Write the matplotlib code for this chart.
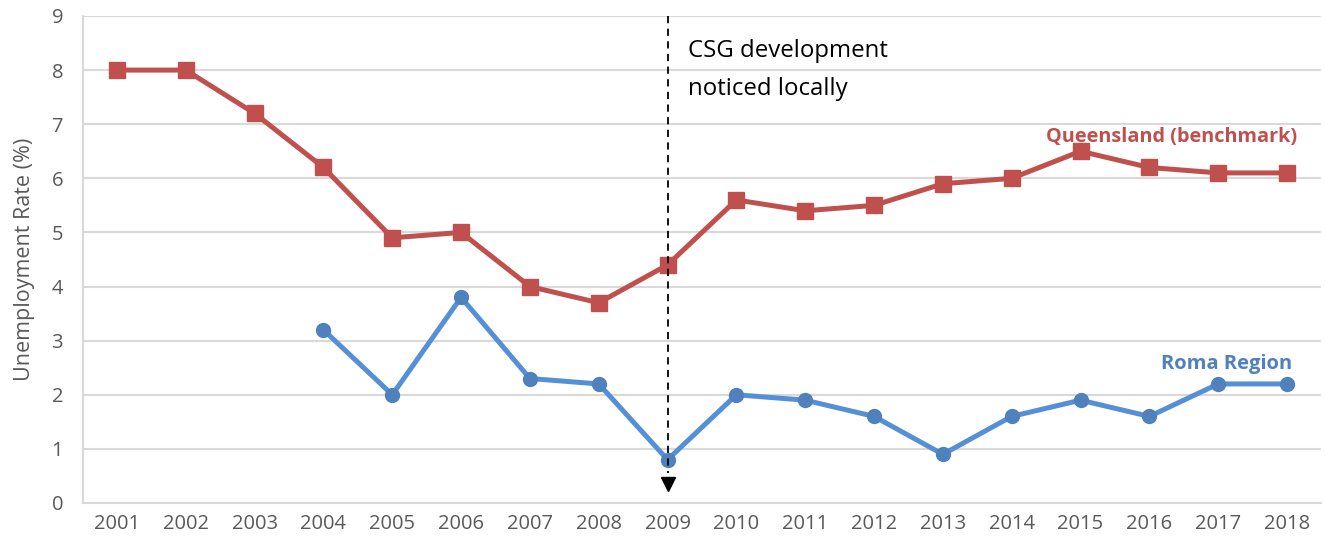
import matplotlib.pyplot as plt
import numpy as np

plt.rcParams['font.family'] = ['Open Sans', 'DejaVu Sans']

years = ['2001', '2002', '2003', '2004', '2005', '2006', '2007', '2008', '2009',
         '2010', '2011', '2012', '2013', '2014', '2015', '2016', '2017', '2018']
queensland = [8.0, 8.0, 7.2, 6.2, 4.9, 5.0, 4.0, 3.7, 4.4,
              5.6, 5.4, 5.5, 5.9, 6.0, 6.5, 6.2, 6.1, 6.1]
roma_years = ['2004', '2005', '2006', '2007', '2008', '2009', '2010', '2011',
              '2012', '2013', '2014', '2015', '2016', '2017', '2018']
roma = [3.2, 2.0, 3.8, 2.3, 2.2, 0.8, 2.0, 1.9, 1.6, 0.9, 1.6, 1.9, 1.6, 2.2, 2.2]
yticks = [0, 1, 2, 3, 4, 5, 6, 7, 8, 9]

red = '#C0504D'
blue_line = '#5590D6'
blue_mark = '#4F81BD'
grey = '#595959'

fig = plt.figure(figsize=(13.25, 5.49), dpi=100)
ax = fig.add_axes([0.0623, 0.0838, 0.935, 0.8871])

x = np.arange(len(years))
xr = np.array([years.index(y) for y in roma_years])

ax.plot(x, queensland, color=red, lw=3.6, marker='s', ms=11, zorder=3)
ax.plot(xr, roma, color=blue_line, lw=3.6, marker='o', ms=10,
        mfc=blue_mark, mec=blue_mark, zorder=3)

# dashed marker line for 2009
i09 = years.index('2009')
ax.plot([i09, i09], [9, 0.55], color='black', lw=1.3, ls=(0, (4, 3)), zorder=4)
ax.plot(i09, 0.36, marker='v', color='black', ms=10, zorder=4)

ax.text(i09 + 0.3, 8.0, 'CSG development\nnoticed locally', fontsize=17.3,
        va='center', ha='left', linespacing=1.75, color='black')
ax.text(17.15, 6.77, 'Queensland (benchmark)', fontsize=14.3, fontweight='bold',
        color=red, ha='right', va='center')
ax.text(17.07, 2.57, 'Roma Region', fontsize=14.5, fontweight='bold',
        color=blue_mark, ha='right', va='center')

ax.set_xlim(-0.5, len(years) - 0.5)
ax.set_ylim(0, 9)
ax.set_xticks(x)
ax.set_xticklabels(years)
ax.set_yticks(yticks)
ax.tick_params(length=0, labelsize=14.5, colors=grey)
ax.tick_params(axis='x', pad=8)
ax.tick_params(axis='y', pad=14)
ax.grid(axis='y', color='#D9D9D9', lw=1.5)
ax.set_axisbelow(True)
for s in ['top', 'right']:
    ax.spines[s].set_visible(False)
for s in ['left', 'bottom']:
    ax.spines[s].set_color('#D9D9D9')
    ax.spines[s].set_linewidth(1.5)
ax.set_ylabel('Unemployment Rate (%)', fontsize=15.5, color=grey, labelpad=12)

fig.savefig('out.png', dpi=100)
